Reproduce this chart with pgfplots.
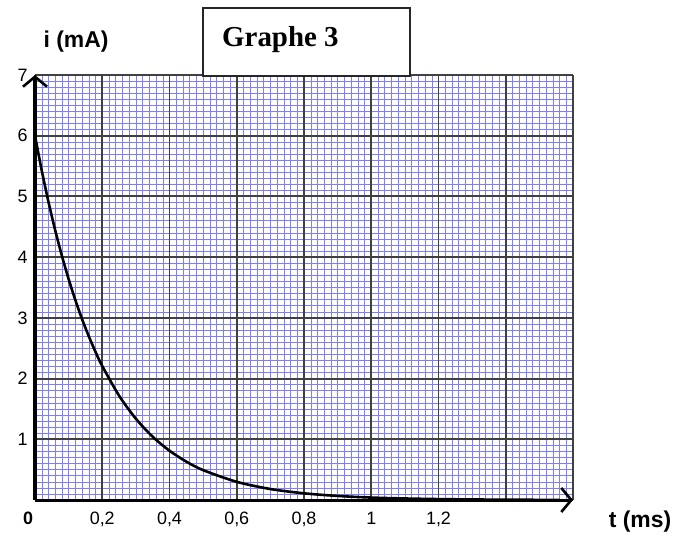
\documentclass[border=0pt]{standalone}
\usepackage{fontspec}
\setmainfont{Liberation Sans}
\newfontfamily\tnr{Liberation Serif}
\usepackage{pgfplots}
\pgfplotsset{compat=1.18}
\usetikzlibrary{arrows.meta}
\definecolor{gridblue}{RGB}{125,125,255}
\begin{document}
\begin{tikzpicture}
\path[use as bounding box] (-35bp,-38bp) rectangle (656bp,500bp);
% minor (blue) grid
\begin{axis}[
  at={(0,0)}, anchor=south west,
  scale only axis, width=538bp, height=425bp,
  xmin=0, xmax=1.6, ymin=0, ymax=7,
  xtick={0,0.2,0.4,0.6,0.8,1.0,1.2,1.4,1.6},
  ytick={0,1,2,3,4,5,6,7},
  xticklabels={}, yticklabels={},
  minor x tick num=9, minor y tick num=9,
  grid=minor,
  minor grid style={gridblue, line width=0.45bp},
  major tick length=0pt, minor tick length=0pt,
  axis line style={draw=none},
]
\end{axis}
% major grid, axes and curve
\begin{axis}[
  at={(0,0)}, anchor=south west,
  scale only axis, width=538bp, height=425bp,
  xmin=0, xmax=1.6, ymin=0, ymax=7,
  xtick={0,0.2,0.4,0.6,0.8,1.0,1.2,1.4,1.6},
  xticklabels={\textbf{0}\hspace*{14bp},{0,2},{0,4},{0,6},{0,8},1,{1,2},{},{}},
  ytick={0,1,2,3,4,5,6,7},
  yticklabels={{},1,2,3,4,5,6,7},
  grid=major,
  major grid style={black!75, line width=1.9bp},
  major tick length=0pt,
  axis lines=left,
  axis line style={line width=3bp, -{Straight Barb[length=10bp, width=24bp, line width=2.6bp]}},
  tick label style={font=\fontsize{18}{21}\selectfont},
  xticklabel style={yshift=-8bp, text height=13bp, text depth=4bp},
  yticklabel style={xshift=-4bp},
  clip=false,
]
\addplot[black, line width=2.6bp, smooth] coordinates {
(0,6.000) (0.02,5.429) (0.04,4.912) (0.06,4.445) (0.08,4.022) (0.10,3.639)
(0.12,3.293) (0.14,2.979) (0.16,2.696) (0.18,2.439) (0.20,2.207) (0.25,1.719)
(0.30,1.339) (0.35,1.042) (0.40,0.812) (0.45,0.632) (0.50,0.492) (0.60,0.299)
(0.70,0.181) (0.80,0.110) (0.90,0.067) (1.00,0.040) (1.10,0.025) (1.20,0.015)
(1.30,0.009) (1.40,0.005) (1.50,0.003) (1.56,0.002)
};
\end{axis}
\draw[black!85, line width=1.5bp, fill=white] (168bp,424bp) rectangle (375bp,492bp);
\node[anchor=base west, inner sep=0pt, font=\tnr\bfseries\fontsize{29}{32}\selectfont] at (187bp,453bp) {Graphe 3};
\node[font=\bfseries\fontsize{23}{27}\selectfont] at (41bp,458bp) {i (mA)};
\node[font=\bfseries\fontsize{23}{27}\selectfont] at (605bp,-22bp) {t (ms)};
\end{tikzpicture}
\end{document}
